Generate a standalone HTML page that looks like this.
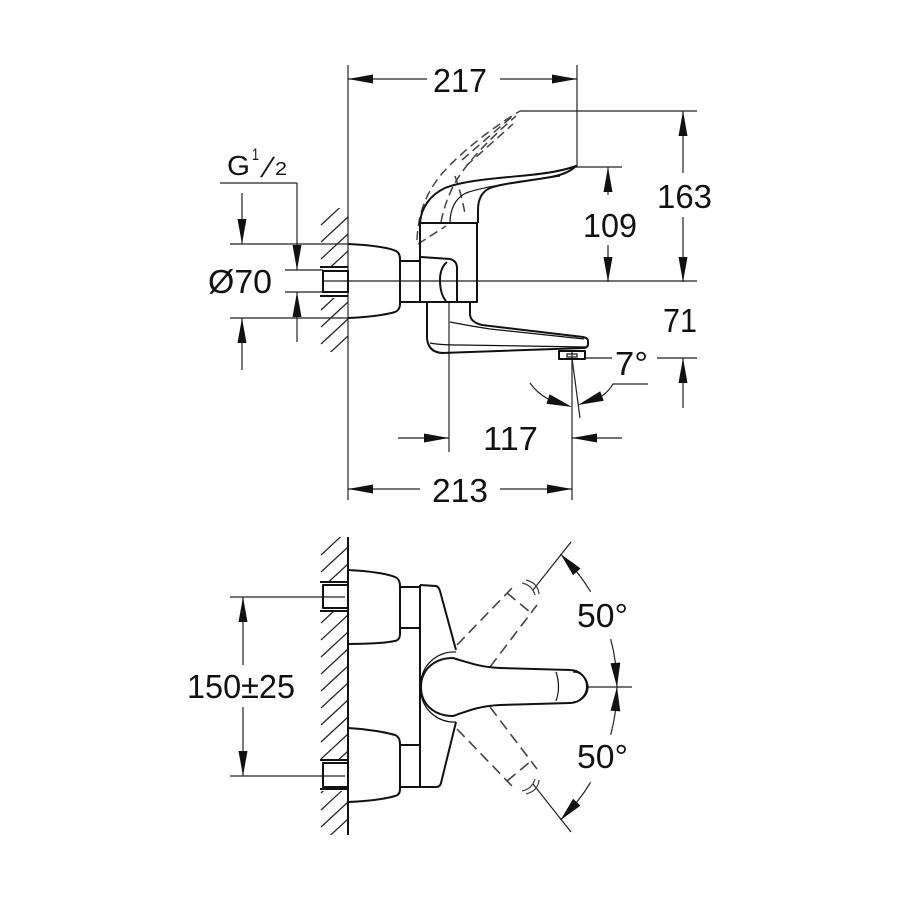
<!DOCTYPE html>
<html><head><meta charset="utf-8"><style>
html,body{margin:0;padding:0;background:#fff;}
svg{display:block;}
text{font-family:"Liberation Sans",Arial,sans-serif;fill:#111;}
</style></head><body>
<svg width="900" height="900" viewBox="0 0 900 900" xmlns="http://www.w3.org/2000/svg">
<defs>
<clipPath id="ct"><rect x="318" y="208" width="30" height="58"/><rect x="318" y="298" width="30" height="54"/></clipPath>
<clipPath id="cb"><rect x="318" y="537" width="30" height="44"/><rect x="318" y="612" width="30" height="147"/><rect x="318" y="791" width="30" height="44"/></clipPath>
</defs>
<rect width="900" height="900" fill="#fff"/>

<!-- ============ TOP VIEW ============ -->
<g stroke="#222" stroke-width="1.2" fill="none">
  <g clip-path="url(#ct)">
    <path d="M321,225 L348,200 M321,242 L348,217 M321,259 L348,234 M321,276 L348,251 M321,293 L348,268 M321,310 L348,285 M321,327 L348,302 M321,344 L348,319 M321,361 L348,336 M321,378 L348,353"/>
  </g>
  <path d="M348,65 L348,500"/>
  <path d="M577,65 L577,167"/>
  <path d="M520,111 L697,111"/>
  <path d="M576,167 L622,167"/>
  <path d="M323,281 L697,281"/>
  <path d="M585,358 L612,358 M657,358 L697,358"/>
  <path d="M449,301 L449,452"/>
  <path d="M572,352 L572,500"/>
  <path d="M572,358 L580,418"/>
  <path d="M230,244 L348,244 M230,318 L348,318"/>
  <path d="M285,270 L323,270 M285,292 L323,292"/>
  <path d="M220,183 L297,183"/>
  <path d="M348,79 L427,79 M500,79 L577,79"/>
  <path d="M683,111 L683,173 M683,217 L683,282"/>
  <path d="M608,167 L608,195 M608,245 L608,282"/>
  <path d="M242,193 L242,244 M242,318 L242,370"/>
  <path d="M297,183 L297,270 M297,292 L297,342"/>
  <path d="M683,358 L683,408"/>
  <path d="M398,438 L449,438 M572,438 L622,438"/>
  <path d="M348,489 L420,489 M500,489 L572,489"/>
  <path d="M530,383 Q537,393 548,399"/>
  <path d="M602,396 Q609,391 613,384 L648,384"/>
</g>
<g fill="#111" stroke="none">
  <polygon points="348,79 373,74.5 373,83.5"/>
  <polygon points="577,79 552,74.5 552,83.5"/>
  <polygon points="683,111 678.5,136 687.5,136"/>
  <polygon points="683,282 678.5,257 687.5,257"/>
  <polygon points="608,167 603.5,192 612.5,192"/>
  <polygon points="608,282 603.5,257 612.5,257"/>
  <polygon points="242,244 237.5,219 246.5,219"/>
  <polygon points="242,318 237.5,343 246.5,343"/>
  <polygon points="297,270 292.5,245 301.5,245"/>
  <polygon points="297,292 292.5,317 301.5,317"/>
  <polygon points="683,358 678.5,383 687.5,383"/>
  <polygon points="449,438 424,433.5 424,442.5"/>
  <polygon points="572,438 597,433.5 597,442.5"/>
  <polygon points="348,489 373,484.5 373,493.5"/>
  <polygon points="572,489 547,484.5 547,493.5"/>
  <polygon points="572,407 546.4,403.7 549.6,394.3"/>
  <polygon points="578,405 603.8,400.7 600.2,391.3"/>
</g>

<g stroke="#444" stroke-width="1.5" fill="none" stroke-dasharray="9 5">
  <path d="M417,240 C418,215 425,195 440,176 C460,152 495,126 520,111"/>
  <path d="M441,222 C445,202 452,186 462,172 C478,150 500,130 516,116"/>
  <path d="M462,160 L515,114"/>
  <path d="M466,166 L513,124"/>
  <path d="M455,176 Q462,196 465,214"/>
  <path d="M418,244 L446,226"/>
</g>

<g stroke="#111" stroke-width="2" fill="#fff" stroke-linejoin="round">
  <path d="M320,267 L348,267 M320,296 L348,296" fill="none"/>
  <rect x="323" y="271" width="25" height="21" fill="none"/>
  <path d="M348,244 C372,245 390,248 396,251 Q400,253 400,259 L400,304 Q400,310 395,312 C385,315 370,317 348,318" fill="none"/>
  <rect x="400" y="261" width="20" height="41" fill="none"/>
  <rect x="420" y="223" width="57" height="79" fill="none"/>
  <path d="M421,257 L450,259 Q457,261 457,268 L457,301" fill="none"/>
  <path d="M447,262 Q440,268 440,280 Q440,294 446,301" fill="none"/>
  <path d="M420,223 C421,208 430,195 445,188 C465,180 500,178 530,175 C550,173 565,170 576,166 C570,172 560,176 545,178 C520,182 500,184 490,188 C481,192 478,200 478,210 L478,223" fill="none"/>
  <path d="M427,302 L427,338 Q428,352 442,353 L583,348 Q588,348 588,344 L588,341 Q588,338 583,337 L482,325 Q470,322 470,314 L470,302" fill="none"/>
  <rect x="559" y="351" width="26" height="8" fill="none"/>
</g>
<g stroke="#111" stroke-width="1.2" fill="none">
  <path d="M450,223 C450,210 455,198 466,193 C485,186 520,182 560,176"/>
  <path d="M450,322 Q470,326 490,329 L584,339"/>
  <path d="M430,343 Q440,345 460,345 L586,347"/>
  <rect x="567" y="354" width="10" height="3"/>
</g>

<text x="460" y="92" font-size="33" text-anchor="middle" textLength="54" lengthAdjust="spacingAndGlyphs">217</text>
<text x="684.5" y="208" font-size="33" text-anchor="middle" textLength="55" lengthAdjust="spacingAndGlyphs">163</text>
<text x="610" y="237" font-size="33" text-anchor="middle" textLength="54" lengthAdjust="spacingAndGlyphs">109</text>
<text x="227" y="175" font-size="28" textLength="23" lengthAdjust="spacingAndGlyphs">G</text>
<text x="252" y="160" font-size="17" textLength="7" lengthAdjust="spacingAndGlyphs">1</text>
<text transform="translate(260,177) skewX(-20)" x="0" y="0" font-size="28">/</text>
<text x="275" y="175" font-size="18" textLength="12" lengthAdjust="spacingAndGlyphs">2</text>
<text x="240" y="293" font-size="33" text-anchor="middle" textLength="64" lengthAdjust="spacingAndGlyphs">Ø70</text>
<text x="680" y="332" font-size="33" text-anchor="middle" textLength="34" lengthAdjust="spacingAndGlyphs">71</text>
<text x="615" y="375" font-size="33" textLength="33" lengthAdjust="spacingAndGlyphs">7°</text>
<text x="510.5" y="450" font-size="33" text-anchor="middle" textLength="55" lengthAdjust="spacingAndGlyphs">117</text>
<text x="460" y="502" font-size="33" text-anchor="middle" textLength="56" lengthAdjust="spacingAndGlyphs">213</text>

<!-- ============ BOTTOM VIEW ============ -->
<g stroke="#222" stroke-width="1.2" fill="none">
  <g clip-path="url(#cb)">
    <path d="M321,555 L348,530 M321,572 L348,547 M321,589 L348,564 M321,606 L348,581 M321,623 L348,598 M321,640 L348,615 M321,657 L348,632 M321,674 L348,649 M321,691 L348,666 M321,708 L348,683 M321,725 L348,700 M321,742 L348,717 M321,759 L348,734 M321,776 L348,751 M321,793 L348,768 M321,810 L348,785 M321,827 L348,802 M321,844 L348,819 M321,861 L348,836"/>
  </g>
  <path d="M230,597 L345,597 M230,776 L345,776"/>
  <path d="M243,597 L243,665 M243,707 L243,776"/>
  <path d="M587,687 L632,687"/>
  <path d="M533,590 L571,542 M533,784 L571,832"/>
  <path d="M560.5,553.9 A185,185 0 0 1 590.6,591.7"/>
  <path d="M610.7,639.1 A185,185 0 0 1 617,687"/>
  <path d="M617,687 A185,185 0 0 1 610.7,734.9"/>
  <path d="M590.6,782.3 A185,185 0 0 1 560.5,820.1"/>
</g>
<g fill="#111" stroke="none">
  <polygon points="243,597 238.5,622 247.5,622"/>
  <polygon points="243,776 238.5,751 247.5,751"/>
  <polygon points="560.5,553.9 573.1,575.2 580.5,568.4"/>
  <polygon points="617,687 610.5,663.3 620.3,662.6"/>
  <polygon points="617,687 610.5,710.7 620.3,711.4"/>
  <polygon points="560.5,820.1 573.1,798.8 580.5,805.6"/>
</g>

<g stroke="#444" stroke-width="1.6" fill="none" stroke-dasharray="11 6">
  <path d="M457,645 L512,588"/>
  <path d="M490,667 L537,605"/>
  <path d="M507,593 L530,612"/>
  <path d="M457,729 L512,786"/>
  <path d="M490,707 L537,769"/>
  <path d="M507,781 L530,762"/>
</g>
<g stroke="#444" stroke-width="1.3" fill="none">
  <path d="M522,583 Q532,585 535,595 M526,580 Q538,583 539,594"/>
  <path d="M522,791 Q532,789 535,779 M526,794 Q538,791 539,780"/>
</g>

<g stroke="#111" stroke-width="2" fill="none" stroke-linejoin="round">
  <path d="M348,537 L348,835"/>
  <path d="M320,582 L348,582 M320,611 L348,611"/>
  <rect x="323" y="585" width="25" height="23"/>
  <path d="M320,760 L348,760 M320,789 L348,789"/>
  <rect x="323" y="763" width="25" height="24"/>
  <path d="M348,570 C370,571 388,574 395,577 Q400,579 400,586 L400,634 Q400,640 395,641 C385,643 368,644 348,644"/>
  <path d="M348,728 C370,729 388,733 395,735 Q400,737 400,744 L400,789 Q400,795 395,796 C385,799 368,801 348,802"/>
  <rect x="400" y="587" width="20" height="41"/>
  <rect x="400" y="745" width="20" height="42"/>
  <path d="M420,585 L436,586 Q439,587 440,591 L456,650"/>
  <path d="M456,722 L441,783 Q440,787 436,787 L420,787 L420,585"/>
  <path d="M453,658 C470,663 480,667 500,668 L570,670 A17,16.5 0 0 1 570,703 L500,705 C480,706 470,710 453,716 C435,716 421,705 421,687 C421,669 435,658 453,658 Z" fill="#fff"/>
</g>
<g stroke="#111" stroke-width="1.2" fill="none">
  <path d="M456,652 C440,651 424,662 421,680"/>
  <path d="M421,694 C424,712 440,723 456,722"/>
  <path d="M573,672 A15,15 0 0 1 573,702"/>
  <path d="M556,672 Q561,687 556,701"/>
</g>

<text x="241" y="698" font-size="33" text-anchor="middle" textLength="108" lengthAdjust="spacingAndGlyphs">150±25</text>
<text x="602.5" y="627" font-size="33" text-anchor="middle" textLength="51" lengthAdjust="spacingAndGlyphs">50°</text>
<text x="602.5" y="768" font-size="33" text-anchor="middle" textLength="51" lengthAdjust="spacingAndGlyphs">50°</text>
</svg>
</body></html>
